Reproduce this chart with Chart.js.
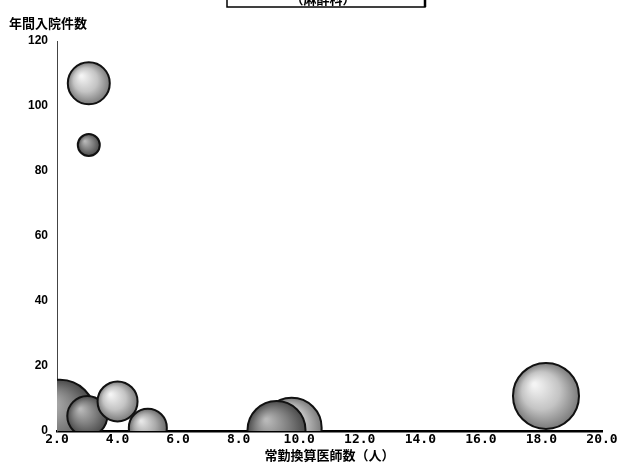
<!DOCTYPE html>
<html><head><meta charset="utf-8">
<script src="https://cdn.jsdelivr.net/npm/chart.js@4/dist/chart.umd.min.js"></script>
<style>html,body{margin:0;padding:0;background:#fff}#wrap{width:619px;height:464px}</style>
</head><body><div id="wrap"><canvas id="c" width="619" height="464"></canvas></div>
<script>
// Data (drawing order: back to front)
const doctors   = [2.1, 3.0, 4.0, 5.0, 9.75, 9.25, 18.15, 3.05, 3.05];   // 常勤換算医師数（人）
const admissions= [5.0, 4.6, 9.1, 1.0, 1.0, 0.3, 10.8, 107, 88];        // 年間入院件数
const bubbleSize= [35, 20, 20, 19, 30, 29, 33, 21, 11];
const tone      = ['dark','dark','light','mid','light','dark','light','light','dark'];
const xTicks = [2,4,6,8,10,12,14,16,18,20];
const yTicks = [0,20,40,60,80,100,120];
const yTitle = '年間入院件数';
const xTitle = '常勤換算医師数（人）';
const topBoxText = '（麻酔科）';

const points = doctors.map((d,i)=>({x:d, y:admissions[i], r:bubbleSize[i]}));

const palettes = {
  light:['#f4f4f4','#c4c4c4','#7a7a7a'],
  mid:  ['#e6e6e6','#aaaaaa','#6a6a6a'],
  dark: ['#b8b8b8','#7e7e7e','#4a4a4a']
};
function fill(ctx){
  const ch = ctx.chart;
  if(!ch.chartArea || ctx.raw===undefined) return '#999';
  const xs = ch.scales.x, ys = ch.scales.y;
  const px = xs.getPixelForValue(ctx.raw.x), py = ys.getPixelForValue(ctx.raw.y);
  const r = ctx.raw.r;
  const g = ch.ctx.createRadialGradient(px - r*0.35, py - r*0.35, r*0.05, px, py, r);
  const p = palettes[tone[ctx.dataIndex]];
  g.addColorStop(0, p[0]); g.addColorStop(0.55, p[1]); g.addColorStop(1, p[2]);
  return g;
}

const decor = {
  id:'decor',
  afterDraw(chart){
    const c = chart.ctx;
    c.save();
    // partially visible title box at the top
    c.fillStyle='#fff'; c.strokeStyle='#000'; c.lineWidth=1.5;
    c.fillRect(227,-10,198,17);
    c.strokeRect(227,-10,198,17);
    c.lineWidth=2.5; c.beginPath(); c.moveTo(425,-2); c.lineTo(425,7); c.stroke();
    c.fillStyle='#000';
    c.font='bold 13px "Noto Sans CJK JP"';
    c.textAlign='center'; c.textBaseline='alphabetic';
    c.fillText(topBoxText, 323, 4);
    // axis titles
    c.textBaseline='middle';
    c.textAlign='left';
    c.font='bold 13px "Noto Sans CJK JP"';
    c.fillText(yTitle, 9, 23);
    c.textAlign='center';
    c.font='bold 13px "Noto Sans CJK JP"';
    c.fillText(xTitle, (chart.chartArea.left+chart.chartArea.right)/2, 455);
    c.restore();
  }
};

new Chart(document.getElementById('c'), {
  type:'bubble',
  data:{datasets:[{
    data:points,
    backgroundColor:fill,
    hoverBackgroundColor:fill,
    borderColor:'#111',
    borderWidth:2,
    hoverBorderWidth:2,
    clip:0
  }]},
  options:{
    responsive:false, animation:false, devicePixelRatio:1,
    layout:{autoPadding:false, padding:{top:41,right:17,left:0,bottom:0}},
    plugins:{legend:{display:false},tooltip:{enabled:false}},
    scales:{
      x:{type:'linear',min:2,max:20,
        afterBuildTicks:s=>{s.ticks = xTicks.map(v=>({value:v}));},
        afterFit:s=>{s.height=33; s.paddingRight=0; s.paddingLeft=0;},
        grid:{display:false,drawTicks:false},
        border:{display:true,color:'#000',width:2.5},
        ticks:{padding:1,color:'#000',maxRotation:0,autoSkip:false,
          font:{family:'"DejaVu Sans Mono"',weight:'bold',size:13},
          callback:v=>Number(v).toFixed(1)}
      },
      y:{type:'linear',min:0,max:120,
        afterBuildTicks:s=>{s.ticks = yTicks.map(v=>({value:v}));},
        afterFit:s=>{s.width=57; s.paddingTop=0; s.paddingBottom=0;},
        grid:{display:false,drawTicks:false},
        border:{display:true,color:'#444',width:1,dash:[2,1]},
        ticks:{padding:9,color:'#000',autoSkip:false,
          font:{family:'"Liberation Sans"',weight:'bold',size:12}}
      }
    }
  },
  plugins:[decor]
});
</script></body></html>
